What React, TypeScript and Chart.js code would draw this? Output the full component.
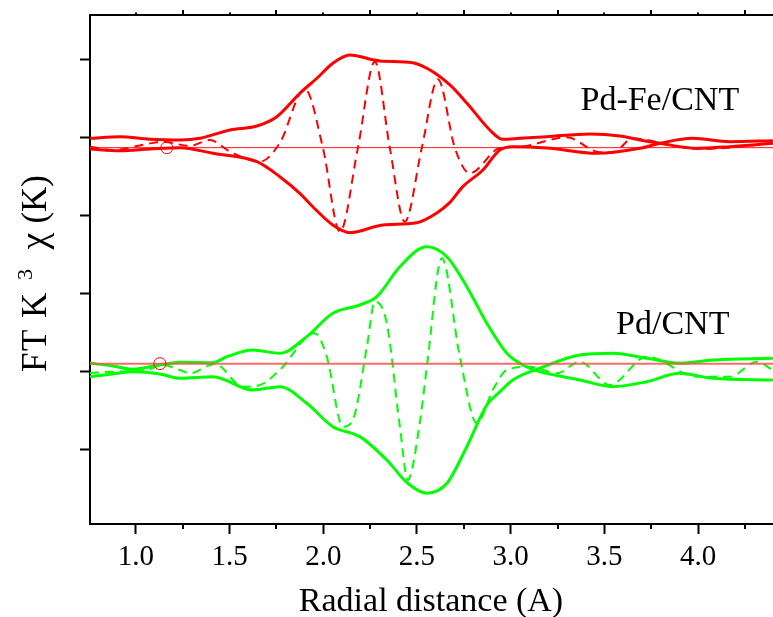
import React, { useEffect, useRef } from "react";
import { Chart, registerables } from "chart.js";

Chart.register(...registerables);

// ---- axis ranges & ticks ----
const X_MIN = 0.755;
const X_MAX = 4.4;
const Y_MIN = -1.953;
const Y_MAX = 4.573;
const X_TICKS = [1.0, 1.5, 2.0, 2.5, 3.0, 3.5, 4.0];
const X_MINOR_TICKS = [1.25, 1.75, 2.25, 2.75, 3.25, 3.75, 4.25];
const TOP_MAJOR_TICKS = [1.25, 1.75, 2.25, 2.75, 3.25, 3.75, 4.25];
const TOP_MINOR_TICKS = [1.0, 1.5, 2.0, 2.5, 3.0, 3.5, 4.0];
const Y_TICKS = [-1, 0, 1, 2, 3, 4];

// ---- Pd-Fe/CNT ----
const pdFeBaseline = 2.872;
const pdFeUpperX = [0.755, 0.915, 1.075, 1.235, 1.342, 1.502, 1.646, 1.752, 1.875, 1.966, 2.051, 2.142, 2.302, 2.478, 2.585, 2.676, 2.766, 2.889, 2.958, 3.049, 3.193, 3.423, 3.583, 3.689, 3.796, 3.994, 4.17, 4.399];
const pdFeUpperY = [2.992, 3.013, 2.98, 2.971, 2.992, 3.099, 3.15, 3.269, 3.569, 3.762, 3.954, 4.06, 3.983, 3.962, 3.846, 3.676, 3.444, 3.099, 2.979, 2.992, 3.013, 3.047, 3.022, 2.971, 2.928, 2.864, 2.885, 2.928];
const pdFeLowerX = [0.755, 0.915, 1.075, 1.235, 1.411, 1.646, 1.768, 1.875, 1.944, 2.051, 2.142, 2.318, 2.499, 2.606, 2.676, 2.745, 2.852, 2.942, 3.012, 3.193, 3.46, 3.689, 3.796, 3.972, 4.17, 4.399];
const pdFeLowerY = [2.855, 2.833, 2.855, 2.872, 2.8, 2.692, 2.5, 2.287, 2.115, 1.881, 1.782, 1.881, 1.91, 2.035, 2.17, 2.372, 2.586, 2.842, 2.885, 2.868, 2.8, 2.864, 2.928, 2.992, 2.949, 2.962];
const pdFeImagX = [0.755, 0.877, 1.059, 1.144, 1.288, 1.395, 1.502, 1.662, 1.768, 1.902, 1.998, 2.089, 2.185, 2.275, 2.355, 2.435, 2.526, 2.612, 2.702, 2.782, 2.942, 3.049, 3.3, 3.46, 3.545, 3.652, 3.85, 4.009, 4.223, 4.399];
const pdFeImagY = [2.885, 2.842, 2.919, 2.949, 2.894, 2.971, 2.821, 2.692, 2.932, 3.624, 2.872, 1.795, 2.872, 3.974, 2.872, 1.923, 2.872, 3.749, 2.872, 2.544, 2.868, 2.885, 3.005, 2.821, 2.808, 2.992, 2.906, 2.855, 2.885, 2.936];
const pdFeMarkerX = [1.165];
const pdFeMarkerY = [2.872];

// ---- Pd/CNT ----
const pdBaseline = 0.103;
const pdUpperX = [0.755, 0.877, 0.984, 1.128, 1.235, 1.411, 1.486, 1.624, 1.768, 1.912, 2.051, 2.195, 2.286, 2.409, 2.553, 2.66, 2.766, 2.873, 2.98, 3.065, 3.156, 3.369, 3.545, 3.727, 3.903, 4.079, 4.399];
const pdUpperY = [0.108, 0.073, 0.031, 0.086, 0.121, 0.115, 0.192, 0.278, 0.236, 0.449, 0.749, 0.855, 0.962, 1.346, 1.603, 1.474, 1.09, 0.621, 0.236, 0.086, 0.0, -0.106, -0.192, -0.128, -0.021, -0.085, -0.106];
const pdLowerX = [0.755, 0.877, 0.984, 1.128, 1.235, 1.411, 1.624, 1.768, 1.912, 2.051, 2.195, 2.339, 2.451, 2.553, 2.66, 2.766, 2.873, 2.942, 3.012, 3.156, 3.369, 3.545, 3.727, 3.903, 4.079, 4.399];
const pdLowerY = [-0.064, -0.029, 0.0, -0.029, -0.085, -0.064, -0.235, -0.192, -0.405, -0.705, -0.833, -1.132, -1.431, -1.559, -1.431, -0.962, -0.427, -0.26, -0.106, 0.044, 0.214, 0.236, 0.172, 0.108, 0.15, 0.172];
const pdImagX = [0.755, 0.877, 1.059, 1.144, 1.235, 1.288, 1.422, 1.571, 1.662, 1.768, 1.955, 2.019, 2.105, 2.158, 2.233, 2.275, 2.339, 2.409, 2.451, 2.515, 2.553, 2.633, 2.729, 2.82, 2.905, 2.98, 3.102, 3.247, 3.369, 3.529, 3.727, 3.994, 4.17, 4.314, 4.399];
const pdImagY = [-0.017, 0.0, 0.022, 0.086, 0.022, -0.021, 0.099, -0.192, -0.171, 0.022, 0.492, 0.192, -0.705, -0.619, 0.321, 0.897, 0.621, -0.705, -1.388, -0.662, 0.064, 1.454, 0.192, -0.662, -0.235, 0.022, 0.064, -0.021, 0.128, -0.171, 0.192, -0.064, -0.064, 0.128, 0.022];
const pdMarkerX = [1.128];
const pdMarkerY = [0.103];

// ---- labels ----
const sampleLabels = ["Pd-Fe/CNT", "Pd/CNT"];
const sampleLabelX = [3.796, 3.865];
const sampleLabelY = [3.355, 0.483];
const xTitle = "Radial distance (A)";
const yTitleParts = ["FT K", "3", "\u03c7", "(K)"];

const RED = "#ff0000";
const GREEN = "#00ff00";
const SERIF = "'Liberation Serif', 'Times New Roman', serif";

const pts = (xs: number[], ys: number[]) => xs.map((x, i) => ({ x, y: ys[i] }));

const solid = (xs: number[], ys: number[], color: string) => ({
  data: pts(xs, ys),
  borderColor: color,
  backgroundColor: color,
  borderWidth: 3,
  pointRadius: 0,
  fill: false,
  cubicInterpolationMode: "monotone" as const,
});

const dashed = (xs: number[], ys: number[], color: string) => ({
  data: pts(xs, ys),
  borderColor: color,
  backgroundColor: color,
  borderWidth: 2,
  borderDash: [9, 6],
  pointRadius: 0,
  fill: false,
  cubicInterpolationMode: "monotone" as const,
});

const marker = (xs: number[], ys: number[]) => ({
  data: pts(xs, ys),
  showLine: false,
  pointRadius: 6,
  pointBorderWidth: 1,
  pointBorderColor: RED,
  pointBackgroundColor: "rgba(0,0,0,0)",
  borderColor: RED,
});

const baseline = (y: number, color: string, w: number) => ({
  data: [
    { x: X_MIN, y },
    { x: X_MAX, y },
  ],
  borderColor: color,
  borderWidth: w,
  pointRadius: 0,
  fill: false,
});

const decorPlugin = {
  id: "decor",
  afterDraw(chart: any) {
    const ctx = chart.ctx as CanvasRenderingContext2D;
    const area = chart.chartArea;
    const xs = chart.scales.x;
    const ys = chart.scales.y;
    ctx.save();
    ctx.strokeStyle = "#000";
    ctx.lineWidth = 2;
    // top border
    ctx.beginPath();
    ctx.moveTo(area.left - 1, area.top);
    ctx.lineTo(area.right, area.top);
    ctx.stroke();
    // bottom minor ticks
    ctx.beginPath();
    X_MINOR_TICKS.forEach((v) => {
      const px = Math.round(xs.getPixelForValue(v));
      ctx.moveTo(px, area.bottom);
      ctx.lineTo(px, area.bottom + 5);
    });
    // top ticks
    TOP_MAJOR_TICKS.forEach((v) => {
      const px = Math.round(xs.getPixelForValue(v));
      ctx.moveTo(px, area.top);
      ctx.lineTo(px, area.top - 5);
    });
    TOP_MINOR_TICKS.forEach((v) => {
      const px = Math.round(xs.getPixelForValue(v));
      ctx.moveTo(px, area.top);
      ctx.lineTo(px, area.top - 2.5);
    });
    ctx.stroke();

    // sample labels
    ctx.fillStyle = "#000";
    ctx.font = `34px ${SERIF}`;
    ctx.textAlign = "center";
    ctx.textBaseline = "alphabetic";
    sampleLabels.forEach((t, i) => {
      ctx.fillText(t, xs.getPixelForValue(sampleLabelX[i]), ys.getPixelForValue(sampleLabelY[i]));
    });

    // x title
    ctx.fillText(xTitle, 431, 611);

    // y title with superscript (reads bottom to top)
    ctx.translate(46, 372);
    ctx.rotate(-Math.PI / 2);
    ctx.textAlign = "left";
    const big = `35px ${SERIF}`;
    const small = `22px ${SERIF}`;
    (ctx as any).letterSpacing = "1.5px";
    ctx.font = big;
    ctx.fillText(yTitleParts[0], 0, 0);
    (ctx as any).letterSpacing = "0px";
    ctx.font = small;
    ctx.fillText(yTitleParts[1], 92, -14);
    ctx.font = `38px ${SERIF}`;
    ctx.textAlign = "center";
    ctx.fillText(yTitleParts[2], 131, 0);
    ctx.font = big;
    ctx.textAlign = "right";
    ctx.fillText(yTitleParts[3], 197, 0);
    ctx.restore();
  },
};

export default function App() {
  const ref = useRef<HTMLCanvasElement | null>(null);
  useEffect(() => {
    document.body.style.margin = "0";
    const canvas = ref.current;
    if (!canvas) return;
    const chart = new Chart(canvas, {
      type: "line",
      data: {
        datasets: [
          marker(pdFeMarkerX, pdFeMarkerY),
          marker(pdMarkerX, pdMarkerY),
          baseline(pdFeBaseline, "rgba(255,0,0,0.9)", 1),
          baseline(pdBaseline, "rgba(255,80,80,0.85)", 2),
          solid(pdFeUpperX, pdFeUpperY, RED),
          solid(pdFeLowerX, pdFeLowerY, RED),
          dashed(pdFeImagX, pdFeImagY, RED),
          solid(pdUpperX, pdUpperY, GREEN),
          solid(pdLowerX, pdLowerY, GREEN),
          dashed(pdImagX, pdImagY, GREEN),
        ] as any,
      },
      options: {
        animation: false,
        responsive: false,
        devicePixelRatio: 1,
        layout: { autoPadding: false, padding: { top: 15, right: 0, left: 0, bottom: 0 } },
        plugins: {
          legend: { display: false },
          tooltip: { enabled: false },
          title: { display: false },
        },
        scales: {
          x: {
            type: "linear",
            position: "bottom",
            min: X_MIN,
            max: X_MAX,
            afterBuildTicks: (scale: any) => {
              scale.ticks = X_TICKS.map((v) => ({ value: v }));
            },
            afterFit: (scale: any) => {
              scale.height = 93;
              scale.paddingRight = 0;
              scale.paddingLeft = 0;
            },
            ticks: {
              autoSkip: false,
              maxRotation: 0,
              minRotation: 0,
              padding: 6,
              color: "#000",
              font: { family: SERIF, size: 29 },
              callback: (v: any) => Number(v).toFixed(1),
            },
            grid: {
              drawOnChartArea: false,
              drawTicks: true,
              tickLength: 10,
              tickWidth: 2,
              tickColor: "#000",
              color: "#000",
            },
            border: { display: true, color: "#000", width: 2 },
          },
          y: {
            type: "linear",
            position: "left",
            min: Y_MIN,
            max: Y_MAX,
            afterBuildTicks: (scale: any) => {
              scale.ticks = Y_TICKS.map((v) => ({ value: v }));
            },
            afterFit: (scale: any) => {
              scale.width = 90;
              scale.paddingTop = 0;
              scale.paddingBottom = 0;
            },
            ticks: { display: false },
            grid: {
              drawOnChartArea: false,
              drawTicks: true,
              tickLength: 10,
              tickWidth: 2,
              tickColor: "#000",
              color: "#000",
            },
            border: { display: true, color: "#000", width: 2 },
          },
        },
      } as any,
      plugins: [decorPlugin],
    });
    return () => chart.destroy();
  }, []);
  return (
    <div style={{ width: 773, height: 617, position: "relative", background: "#fff" }}>
      <canvas ref={ref} width={773} height={617} style={{ display: "block" }} />
    </div>
  );
}
